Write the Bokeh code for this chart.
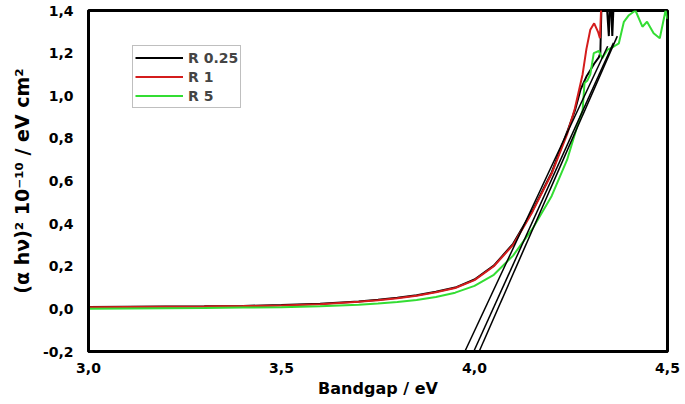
from bokeh.plotting import figure
from bokeh.models import FixedTicker, CustomJSTickFormatter
from bokeh.embed import file_html
from bokeh.resources import INLINE

# ---- data ----
x_ticks = [3.0, 3.5, 4.0, 4.5]
y_ticks = [-0.2, 0.0, 0.2, 0.4, 0.6, 0.8, 1.0, 1.2, 1.4]

r025_x = [3.00, 3.10, 3.20, 3.30, 3.40, 3.50, 3.60, 3.70, 3.75, 3.80, 3.85, 3.90, 3.95, 4.00, 4.05,
          4.10, 4.15, 4.20, 4.24, 4.26, 4.275, 4.29, 4.30, 4.31, 4.322, 4.326, 4.330, 4.340, 4.348,
          4.352, 4.357, 4.362]
r025_y = [0.009, 0.010, 0.011, 0.012, 0.014, 0.018, 0.024, 0.035, 0.043, 0.052, 0.064, 0.080, 0.100,
          0.138, 0.203, 0.305, 0.460, 0.640, 0.830, 0.930, 1.030, 1.090, 1.120, 1.150, 1.180, 1.200,
          1.500, 1.500, 1.280, 1.500, 1.280, 1.500]

r1_x = [3.00, 3.10, 3.20, 3.30, 3.40, 3.50, 3.60, 3.70, 3.75, 3.80, 3.85, 3.90, 3.95, 4.00, 4.05,
        4.10, 4.15, 4.20, 4.24, 4.26, 4.28, 4.29, 4.30, 4.31, 4.32, 4.325, 4.33]
r1_y = [0.008, 0.009, 0.010, 0.011, 0.013, 0.016, 0.022, 0.033, 0.040, 0.050, 0.062, 0.078, 0.098,
        0.135, 0.200, 0.300, 0.455, 0.635, 0.820, 0.940, 1.100, 1.220, 1.310, 1.340, 1.300, 1.270,
        1.500]

r5_x = [3.00, 3.10, 3.20, 3.30, 3.40, 3.50, 3.60, 3.70, 3.75, 3.80, 3.85, 3.90, 3.95, 4.00, 4.05,
        4.10, 4.15, 4.20, 4.24, 4.26, 4.27, 4.28, 4.285, 4.292, 4.30, 4.309, 4.322, 4.331, 4.344,
        4.361, 4.374, 4.387, 4.400, 4.417, 4.435, 4.447, 4.464, 4.480, 4.495, 4.500]
r5_y = [0.001, 0.002, 0.003, 0.004, 0.006, 0.008, 0.012, 0.019, 0.025, 0.032, 0.042, 0.056, 0.076,
        0.108, 0.160, 0.250, 0.375, 0.530, 0.700, 0.820, 0.880, 0.930, 1.060, 1.070, 1.100, 1.200,
        1.210, 1.176, 1.215, 1.231, 1.246, 1.347, 1.378, 1.400, 1.324, 1.347, 1.293, 1.270, 1.400,
        1.360]

# tangent (extrapolation) lines: start and end points
tan_x0 = [3.975, 3.998, 4.012]
tan_y0 = [-0.2, -0.2, -0.2]
tan_x1 = [4.345, 4.360, 4.370]
tan_y1 = [1.232, 1.248, 1.280]

series_names = ["R 0.25", "R 1", "R 5"]
series_colors = ["#000000", "#d41c1c", "#33dd33"]

FONT = "DejaVu Sans"

p = figure(width=685, height=404, x_range=(3.0, 4.5), y_range=(-0.2, 1.4),
           output_backend="svg", toolbar_location=None,
           min_border_left=88, min_border_right=18, min_border_top=10, min_border_bottom=53)

p.line(r025_x, r025_y, line_color=series_colors[0], line_width=2, legend_label=series_names[0])
p.line(r1_x, r1_y, line_color=series_colors[1], line_width=2, legend_label=series_names[1])
p.line(r5_x, r5_y, line_color=series_colors[2], line_width=2, legend_label=series_names[2])

p.segment(x0=tan_x0, y0=tan_y0, x1=tan_x1, y1=tan_y1, line_color="black", line_width=1.5)

fmt = CustomJSTickFormatter(code="return tick.toFixed(1).replace('.', ',');")
p.xaxis.ticker = FixedTicker(ticks=x_ticks)
p.yaxis.ticker = FixedTicker(ticks=y_ticks)
p.xaxis.formatter = fmt
p.yaxis.formatter = fmt

for ax in (p.xaxis, p.yaxis):
    ax.major_tick_line_color = None
    ax.minor_tick_line_color = None
    ax.axis_line_color = "black"
    ax.axis_line_width = 3
    ax.major_label_text_font = FONT
    ax.major_label_text_font_style = "bold"
    ax.major_label_text_font_size = "14px"
    ax.major_label_text_color = "black"
    ax.axis_label_text_font = FONT
    ax.axis_label_text_font_style = "bold"
    ax.axis_label_text_color = "black"

p.xaxis.major_label_standoff = 5
p.yaxis.major_label_standoff = 9
p.xaxis.axis_label = "Bandgap / eV"
p.xaxis.axis_label_text_font_size = "16px"
p.xaxis.axis_label_standoff = 3
p.yaxis.axis_label = "(α hν)² 10⁻¹⁰ / eV cm²"
p.yaxis.axis_label_text_font_size = "19px"
p.yaxis.axis_label_standoff = 7

p.xgrid.visible = False
p.ygrid.visible = False
p.outline_line_color = "black"
p.outline_line_width = 3
p.outline_line_alpha = 1.0

lg = p.legend[0]
lg.location = (44, 243)
lg.border_line_color = "#808080"
lg.border_line_width = 1.5
lg.background_fill_color = "white"
lg.background_fill_alpha = 1.0
lg.glyph_width = 48
lg.glyph_height = 19
lg.label_height = 19
lg.spacing = 0
lg.padding = 2
lg.margin = 0
lg.label_standoff = 5
lg.label_text_font = FONT
lg.label_text_font_style = "bold"
lg.label_text_font_size = "14px"

open("out.html", "w").write(file_html(p, INLINE))
